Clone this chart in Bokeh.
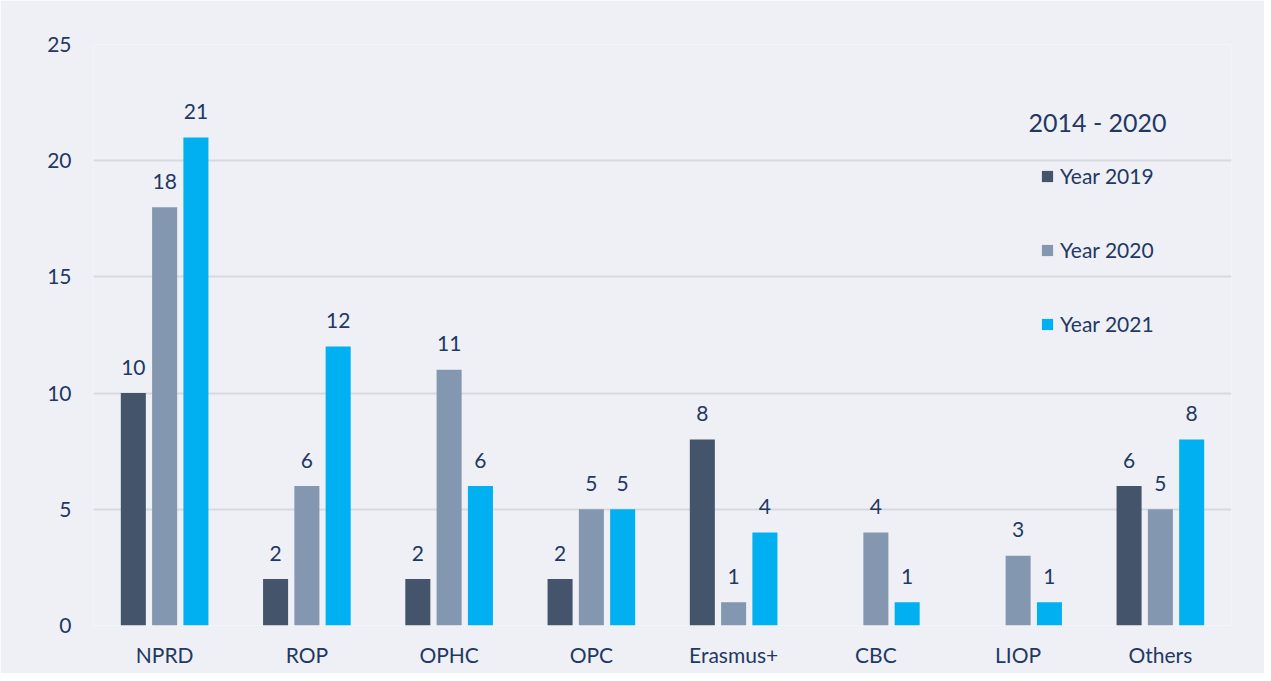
from bokeh.plotting import figure
from bokeh.models import ColumnDataSource, FactorRange, Range1d, Legend, LegendItem, Label
from bokeh.transform import dodge
from bokeh.core.properties import value
from bokeh.embed import file_html
from bokeh.resources import INLINE

categories = ["NPRD", "ROP", "OPHC", "OPC", "Erasmus+", "CBC", "LIOP", "Others"]
year_2019 = [10, 2, 2, 2, 8, None, None, 6]
year_2020 = [18, 6, 11, 5, 1, 4, 3, 5]
year_2021 = [21, 12, 6, 5, 4, 1, 1, 8]
series_names = ["Year 2019", "Year 2020", "Year 2021"]
y_ticks = [0, 5, 10, 15, 20, 25]
legend_title = "2014 - 2020"

colors = ["#44546a", "#8497b0", "#00b0f0"]
offsets = [-0.22, 0.0, 0.22]
bar_w = 0.176
text_color = "#1f3864"
font = "Lato"
bg = "#eff0f5"

p = figure(x_range=FactorRange(*categories, range_padding=0), y_range=Range1d(0, 25),
           width=1264, height=673, output_backend="svg", toolbar_location=None,
           min_border_left=93, min_border_right=33, min_border_top=44, min_border_bottom=48)
p.background_fill_color = bg
p.border_fill_color = bg
p.outline_line_color = None

renderers = []
for vals, col, off in zip([year_2019, year_2020, year_2021], colors, offsets):
    top = [float("nan") if v is None else v for v in vals]
    lbl = ["" if v is None else str(v) for v in vals]
    ypos = [0 if v is None else v for v in vals]
    src = ColumnDataSource(dict(cat=categories, top=top, lbl=lbl, ypos=ypos))
    r = p.vbar(x=dodge("cat", off, range=p.x_range), top="top", width=bar_w, source=src,
               fill_color=col, line_color=None)
    renderers.append(r)
    p.text(x=dodge("cat", off, range=p.x_range), y="ypos", text="lbl", source=src,
           text_align="center", text_baseline="alphabetic", y_offset=-26,
           text_font=value(font), text_font_size="21px", text_color=text_color)

p.xgrid.grid_line_color = None
p.ygrid.grid_line_color = "#d6d9e0"
p.ygrid.grid_line_width = 2
p.yaxis.ticker = y_ticks

for ax in (p.xaxis[0], p.yaxis[0]):
    ax.axis_line_color = None
    ax.major_tick_line_color = None
    ax.minor_tick_line_color = None
    ax.major_label_text_font = font
    ax.major_label_text_font_size = "21px"
    ax.major_label_text_color = text_color
p.yaxis.major_label_standoff = 16
p.xaxis.major_label_standoff = 10

legend = Legend(items=[LegendItem(label=n, renderers=[r]) for n, r in zip(series_names, renderers)],
                location=(947, 289), orientation="vertical",
                glyph_width=14, glyph_height=14, label_height=20, spacing=49,
                padding=0, margin=0, label_standoff=6,
                border_line_color=None, background_fill_alpha=0,
                label_text_font=font, label_text_font_size="21px", label_text_color=text_color)
p.add_layout(legend)

p.add_layout(Label(x=935, y=504, x_units="screen", y_units="screen", text=legend_title,
                   text_font=font, text_font_size="25px", text_color=text_color,
                   text_baseline="middle", text_align="left"))

open("out.html", "w").write(file_html(p, INLINE))
